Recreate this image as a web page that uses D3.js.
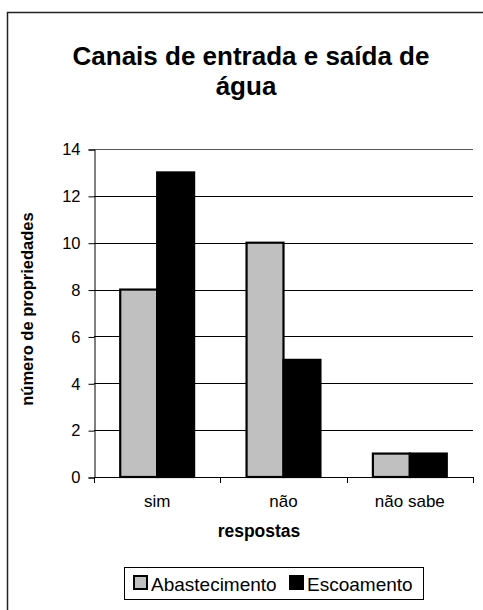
<!DOCTYPE html>
<html>
<head>
<meta charset="utf-8">
<script src="https://cdn.jsdelivr.net/npm/d3@7"></script>
<style>
  html, body { margin: 0; padding: 0; background: #fff; }
  svg { display: block; font-family: "Liberation Sans", Arial, sans-serif; }
</style>
</head>
<body>
<svg id="chart" width="483" height="610"></svg>
<script>
const categories = ["sim", "não", "não sabe"];
const seriesNames = ["Abastecimento", "Escoamento"];
const abastecimento = [8, 10, 1];
const escoamento = [13, 5, 1];
const yTicks = [0, 2, 4, 6, 8, 10, 12, 14];
const seriesColors = ["#c0c0c0", "#000000"];

const FONT = "Liberation Sans, Arial, sans-serif";
const svg = d3.select("#chart");

// outer frame
svg.append("rect").attr("x", 7.5).attr("y", 12.5).attr("width", 500).attr("height", 620)
  .attr("fill", "#fff").attr("stroke", "#222").attr("stroke-width", 1.5);

const pLeft = 94, pRight = 473, pTop = 149, pBottom = 477;

const x0 = d3.scaleBand().domain(categories).range([pLeft, pRight]).paddingInner(0).paddingOuter(0);
const x1 = d3.scaleBand().domain(seriesNames).range([0, x0.bandwidth()]).paddingInner(0).paddingOuter(0.71);
const y = d3.scaleLinear().domain([0, 14]).range([pBottom, pTop]);

// gridlines
svg.append("g").selectAll("line").data(yTicks.filter(d => d > 0)).join("line")
  .attr("x1", pLeft).attr("x2", pRight)
  .attr("y1", d => Math.round(y(d)) + 0.5).attr("y2", d => Math.round(y(d)) + 0.5)
  .attr("stroke", d => d === 14 ? "#555" : "#000").attr("stroke-width", 1);

// y axis
const yAxis = d3.axisLeft(y).tickValues(yTicks).tickSize(6).tickPadding(8).tickFormat(d3.format("d"));
const gy = svg.append("g").attr("transform", `translate(${pLeft + 0.5},0.5)`).call(yAxis);
gy.select(".domain").attr("stroke", "#000");
gy.selectAll(".tick line").attr("stroke", "#000");
gy.selectAll("text").attr("font-size", 16.5).attr("fill", "#000").attr("font-family", FONT);

// x axis
const xAxis = d3.axisBottom(x0).tickSize(0).tickPadding(17);
const gx = svg.append("g").attr("transform", `translate(0,${pBottom + 0.5})`).call(xAxis);
gx.select(".domain").attr("stroke", "#000").attr("d", `M${pLeft},0H${pRight}`);
gx.selectAll("text").attr("font-size", 17).attr("fill", "#000").attr("font-family", FONT);
// category boundary ticks
const boundaries = [pLeft].concat(categories.map(c => x0(c) + x0.bandwidth()));
svg.append("g").selectAll("line").data(boundaries).join("line")
  .attr("x1", d => Math.round(d) + 0.5).attr("x2", d => Math.round(d) + 0.5)
  .attr("y1", pBottom).attr("y2", pBottom + 6).attr("stroke", "#000");

// bars
const data = categories.map((c, i) => ({ cat: c, vals: [abastecimento[i], escoamento[i]] }));
const groups = svg.append("g").selectAll("g").data(data).join("g")
  .attr("transform", d => `translate(${x0(d.cat)},0)`);
groups.selectAll("rect").data(d => d.vals.map((v, j) => ({ v, s: seriesNames[j], c: seriesColors[j] }))).join("rect")
  .attr("x", d => x1(d.s)).attr("width", x1.bandwidth())
  .attr("y", d => y(d.v)).attr("height", d => y(0) - y(d.v))
  .attr("fill", d => d.c).attr("stroke", "#000").attr("stroke-width", 2.2);

// title
const title = svg.append("text").attr("text-anchor", "middle").attr("font-weight", "bold")
  .attr("font-size", 26).attr("fill", "#000").attr("font-family", FONT);
title.append("tspan").attr("x", 251).attr("y", 65).text("Canais de entrada e saída de");
title.append("tspan").attr("x", 246).attr("y", 95).text("água");

// axis titles
svg.append("text").attr("transform", `translate(33,${(pTop + pBottom) / 2 - 4}) rotate(-90)`)
  .attr("text-anchor", "middle").attr("font-weight", "bold").attr("font-size", 16.5)
  .attr("font-family", FONT).text("número de propriedades");
svg.append("text").attr("x", 259).attr("y", 537).attr("text-anchor", "middle")
  .attr("font-weight", "bold").attr("font-size", 17.5).attr("font-family", FONT).text("respostas");

// legend
const lg = svg.append("g");
lg.append("rect").attr("x", 124.5).attr("y", 567.5).attr("width", 299).attr("height", 32)
  .attr("fill", "#fff").attr("stroke", "#000").attr("stroke-width", 1);
const legendX = [134, 290];
seriesNames.forEach((s, i) => {
  lg.append("rect").attr("x", legendX[i]).attr("y", 576).attr("width", 13).attr("height", 13)
    .attr("fill", seriesColors[i]).attr("stroke", "#000").attr("stroke-width", 2);
  lg.append("text").attr("x", legendX[i] + 17).attr("y", 591).attr("font-size", 19)
    .attr("font-family", FONT).text(s);
});
</script>
</body>
</html>
